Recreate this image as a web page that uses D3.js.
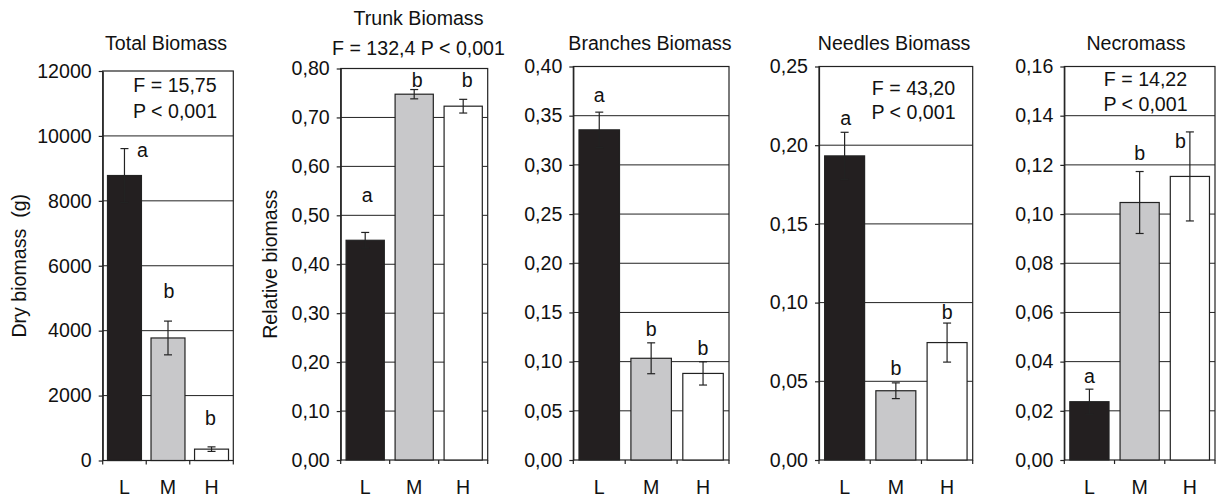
<!DOCTYPE html>
<html>
<head>
<meta charset="utf-8">
<script src="https://cdn.jsdelivr.net/npm/d3@7"></script>
<style>
  html, body { margin: 0; padding: 0; background: #fff; }
  svg text { font-family: "Liberation Sans", Arial, sans-serif; fill: #111; }
</style>
</head>
<body>
<svg id="chart" width="1216" height="498"></svg>
<script>
// ---- data ----
const categories = ["L", "M", "H"];

const totalMeans = [8780, 3775, 350];
const totalErr = [830, 520, 70];
const totalLetters = ["a", "b", "b"];
const totalLetterY = [9360, 5005, 1093];
const totalTicks = [0, 2000, 4000, 6000, 8000, 10000, 12000];
const totalStats = ["F = 15,75", "P < 0,001"];

const trunkMeans = [0.449, 0.7475, 0.723];
const trunkErr = [0.016, 0.0095, 0.014];
const trunkLetters = ["a", "b", "b"];
const trunkLetterY = [0.528, 0.7627, 0.7627];
const trunkTicks = [0, 0.1, 0.2, 0.3, 0.4, 0.5, 0.6, 0.7, 0.8];
const trunkStats = ["F = 132,4 P < 0,001"];

const branchMeans = [0.3356, 0.1034, 0.088];
const branchErr = [0.018, 0.0157, 0.0118];
const branchLetters = ["a", "b", "b"];
const branchLetterY = [0.3642, 0.126, 0.1067];
const branchTicks = [0, 0.05, 0.1, 0.15, 0.2, 0.25, 0.3, 0.35, 0.4];
const branchStats = [];

const needleMeans = [0.1932, 0.044, 0.0746];
const needleErr = [0.015, 0.005, 0.0124];
const needleLetters = ["a", "b", "b"];
const needleLetterY = [0.2128, 0.054, 0.0893];
const needleTicks = [0, 0.05, 0.1, 0.15, 0.2, 0.25];
const needleStats = ["F = 43,20", "P < 0,001"];

const necroMeans = [0.0237, 0.1047, 0.1153];
const necroErr = [0.0051, 0.0126, 0.0181];
const necroLetters = ["a", "b", "b"];
const necroLetterY = [0.0312, 0.122, 0.1267];
const necroTicks = [0, 0.02, 0.04, 0.06, 0.08, 0.1, 0.12, 0.14, 0.16];
const necroStats = ["F = 14,22", "P < 0,001"];

// ---- layout ----
const barFill = ["#231f20", "#c8c8ca", "#ffffff"];
const FS = 19.6;

const comma = d3.formatLocale({decimal: ",", thousands: "", grouping: [3], currency: ["", ""]});

const panels = [
  {title: ["Total Biomass"], titleX: 166, titleY: [50], ylabel: "Dry biomass  (g)", ylabelX: 26,
   means: totalMeans, err: totalErr, letters: totalLetters, letterY: totalLetterY, letterDx: [18, 1, -1],
   ticks: totalTicks, fmt: comma.format("d"), stats: totalStats, statsX: 175, statsY: [92, 118],
   left: 102.7, right: 233.3, top: 71, bottom: 460.5},
  {title: ["Trunk Biomass", trunkStats[0]], titleX: 418.5, titleY: [25, 55], ylabel: "Relative biomass", ylabelX: 277,
   means: trunkMeans, err: trunkErr, letters: trunkLetters, letterY: trunkLetterY, letterDx: [2, 3, 4],
   ticks: trunkTicks, fmt: comma.format(".2f"), stats: [], statsX: 0, statsY: [],
   left: 340.7, right: 487.7, top: 68.5, bottom: 460},
  {title: ["Branches Biomass"], titleX: 650, titleY: [50], ylabel: null,
   means: branchMeans, err: branchErr, letters: branchLetters, letterY: branchLetterY, letterDx: [0, 0, 0],
   ticks: branchTicks, fmt: comma.format(".2f"), stats: branchStats, statsX: 0, statsY: [],
   left: 573.3, right: 729, top: 66.5, bottom: 460},
  {title: ["Needles Biomass"], titleX: 894, titleY: [50], ylabel: null,
   means: needleMeans, err: needleErr, letters: needleLetters, letterY: needleLetterY, letterDx: [1, 0, 0],
   ticks: needleTicks, fmt: comma.format(".2f"), stats: needleStats, statsX: 913.5, statsY: [95, 119],
   left: 819, right: 972.7, top: 66.5, bottom: 460},
  {title: ["Necromass"], titleX: 1136, titleY: [50], ylabel: null,
   means: necroMeans, err: necroErr, letters: necroLetters, letterY: necroLetterY, letterDx: [0, 0, -9.5],
   ticks: necroTicks, fmt: comma.format(".2f"), stats: necroStats, statsX: 1145.5, statsY: [86, 110.5],
   left: 1064.3, right: 1215, top: 66.5, bottom: 460}
];

const svg = d3.select("#chart");

panels.forEach(p => {
  const g = svg.append("g");
  const x = d3.scaleBand().domain(categories).range([p.left, p.right]).padding(0);
  const y = d3.scaleLinear().domain([0, d3.max(p.ticks)]).range([p.bottom, p.top]);
  const bw = x.bandwidth() * 0.78;

  // gridlines
  g.selectAll(".grid").data(p.ticks.slice(1, -1)).join("line")
    .attr("x1", p.left).attr("x2", p.right)
    .attr("y1", d => y(d)).attr("y2", d => y(d))
    .attr("stroke", "#222").attr("stroke-width", 1);

  // frame
  g.append("rect")
    .attr("x", p.left).attr("y", p.top)
    .attr("width", p.right - p.left).attr("height", p.bottom - p.top)
    .attr("fill", "none").attr("stroke", "#222").attr("stroke-width", 1.2);

  // bars
  g.selectAll(".bar").data(p.means).join("rect")
    .attr("x", (d, i) => x(categories[i]) + (x.bandwidth() - bw) / 2)
    .attr("y", d => y(d))
    .attr("width", bw)
    .attr("height", d => y(0) - y(d))
    .attr("fill", (d, i) => barFill[i])
    .attr("stroke", "#222").attr("stroke-width", 1.2);

  // error bars
  const eg = g.selectAll(".err").data(p.means).join("g")
    .attr("transform", (d, i) => `translate(${x(categories[i]) + x.bandwidth() / 2},0)`);
  eg.append("line")
    .attr("y1", (d, i) => y(d - p.err[i])).attr("y2", (d, i) => y(d + p.err[i]))
    .attr("stroke", "#222").attr("stroke-width", 1.2);
  [-1, 1].forEach(s => {
    eg.append("line")
      .attr("x1", -4).attr("x2", 4)
      .attr("y1", (d, i) => y(d + s * p.err[i])).attr("y2", (d, i) => y(d + s * p.err[i]))
      .attr("stroke", "#222").attr("stroke-width", 1.2);
  });

  // significance letters
  g.selectAll(".letter").data(p.letters).join("text")
    .attr("x", (d, i) => x(categories[i]) + x.bandwidth() / 2 + p.letterDx[i])
    .attr("y", (d, i) => y(p.letterY[i]))
    .attr("text-anchor", "middle").attr("font-size", FS)
    .text(d => d);

  // y axis
  const ya = d3.axisLeft(y).tickValues(p.ticks).tickFormat(p.fmt).tickSize(4).tickSizeOuter(0).tickPadding(7);
  const yg = g.append("g").attr("transform", `translate(${p.left},0)`).call(ya);
  yg.select(".domain").attr("stroke", "#222").attr("stroke-width", 1.2);
  yg.selectAll(".tick line").attr("stroke", "#222").attr("stroke-width", 1.2);
  yg.selectAll(".tick text").attr("font-size", FS).attr("font-family", "Liberation Sans, Arial, sans-serif").attr("fill", "#111");

  // x ticks at category boundaries
  const bounds = categories.map(c => x(c)).concat([p.right]);
  g.selectAll(".xt").data(bounds).join("line")
    .attr("x1", d => d).attr("x2", d => d)
    .attr("y1", p.bottom).attr("y2", p.bottom + 4)
    .attr("stroke", "#222").attr("stroke-width", 1.2);
  g.selectAll(".xl").data(categories).join("text")
    .attr("x", d => x(d) + x.bandwidth() / 2)
    .attr("y", 494)
    .attr("text-anchor", "middle").attr("font-size", FS)
    .text(d => d);

  // titles
  p.title.forEach((t, i) => {
    g.append("text").attr("x", p.titleX).attr("y", p.titleY[i])
      .attr("text-anchor", "middle").attr("font-size", FS).text(t);
  });

  // stats text
  p.stats.forEach((t, i) => {
    g.append("text").attr("x", p.statsX).attr("y", p.statsY[i])
      .attr("text-anchor", "middle").attr("font-size", FS).text(t);
  });

  // y label
  if (p.ylabel) {
    g.append("text")
      .attr("transform", `translate(${p.ylabelX},${(p.top + p.bottom) / 2}) rotate(-90)`)
      .attr("text-anchor", "middle").attr("font-size", FS)
      .style("white-space", "pre")
      .text(p.ylabel);
  }
});
</script>
</body>
</html>
